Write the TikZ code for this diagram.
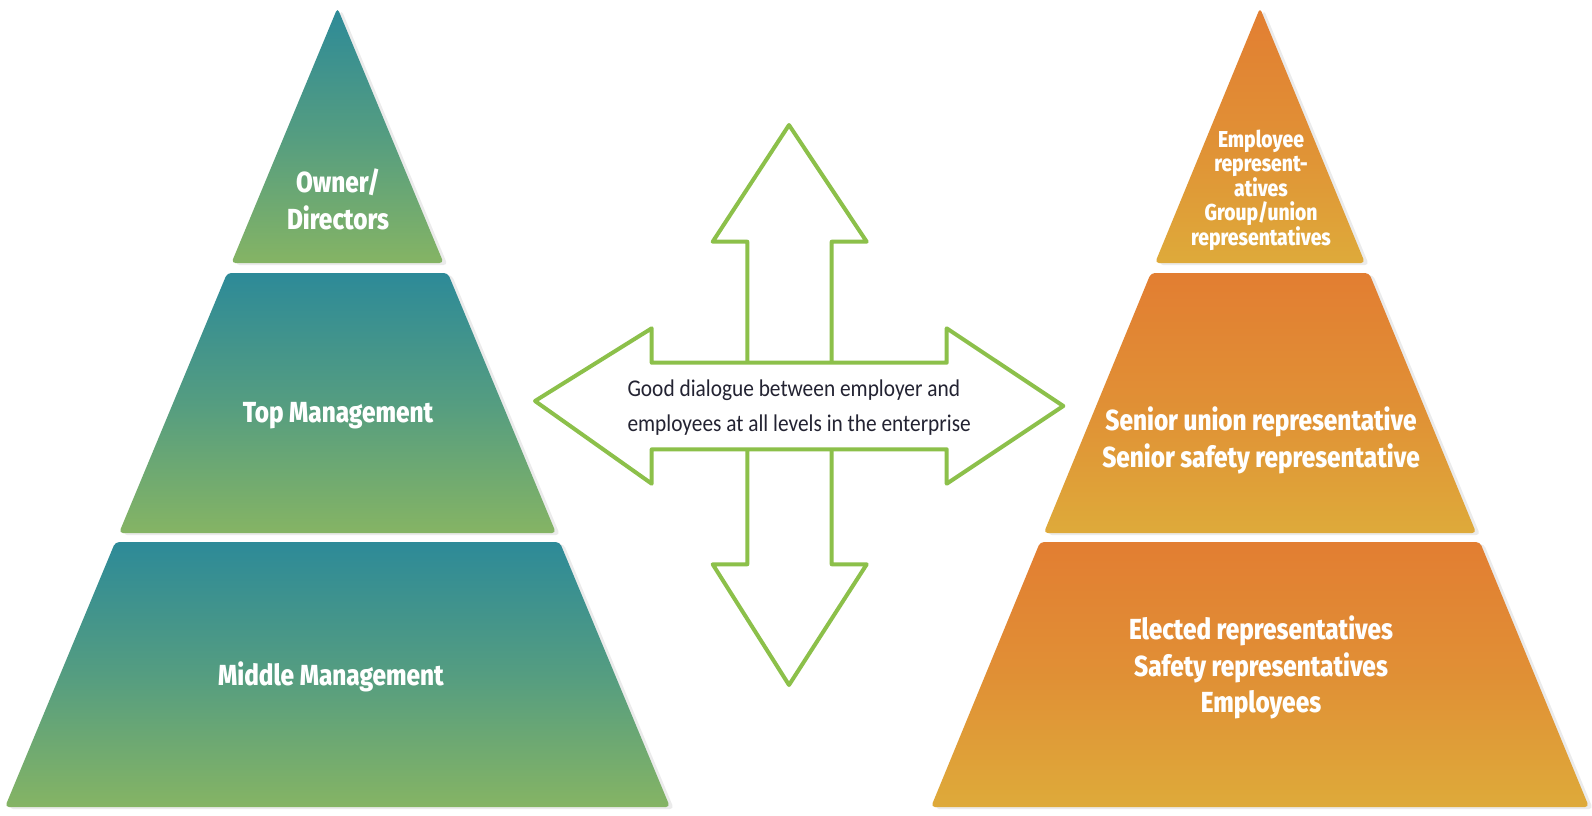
\documentclass[tikz,border=0pt]{standalone}
\usepackage{fontspec}
\newfontfamily\labfont{Fira Sans}[BoldFont={Fira Sans ExtraBold}, FakeStretch=0.84]
\newfontfamily\dlgfont{Carlito}[FakeStretch=0.89]
\definecolor{tealA}{RGB}{45,138,152}
\definecolor{greenA}{RGB}{133,180,100}
\definecolor{orangeA}{RGB}{226,126,50}
\definecolor{goldA}{RGB}{222,170,58}
\definecolor{arrowG}{RGB}{140,192,74}
\definecolor{dlgText}{RGB}{35,35,50}
\tikzset{
  tierL/.style={top color=tealA, bottom color=greenA, middle color=tealA!55!greenA, rounded corners=4pt},
  tierR/.style={top color=orangeA, bottom color=goldA, middle color=orangeA!60!goldA, rounded corners=4pt},
  shadowtier/.style={fill=black, opacity=0.08, rounded corners=4pt},
  lab/.style={text=white, align=center, inner sep=0pt, font=\labfont\bfseries\fontsize{29}{36.5}\selectfont},
  labsmall/.style={text=white, align=center, inner sep=0pt, font=\labfont\bfseries\fontsize{23}{24}\selectfont},
  arrowshape/.style={draw=arrowG, fill=white, line width=4pt, line join=round},
  dlg/.style={text=dlgText, anchor=base west, inner sep=0pt, font=\dlgfont\fontsize{24}{34}\selectfont}
}
\begin{document}
\begin{tikzpicture}[x=1pt,y=-1pt]
\useasboundingbox[fill=white] (0,0) rectangle (1592,815);
% shadows
\fill[shadowtier] (341.5,10) -- (447.6,265) -- (235.4,265) -- cycle;
\fill[shadowtier] (231.2,275) -- (451.8,275) -- (560,535) -- (123,535) -- cycle;
\fill[shadowtier] (119.3,544) -- (563.7,544) -- (674,809) -- (9,809) -- cycle;
\fill[shadowtier] (1264,10) -- (1369,265) -- (1159,265) -- cycle;
\fill[shadowtier] (1154.9,275) -- (1373.1,275) -- (1480.2,535) -- (1047.8,535) -- cycle;
\fill[shadowtier] (1044.1,544) -- (1483.9,544) -- (1593,809) -- (935,809) -- cycle;
% left pyramid
\path[tierL] (337.5,8) -- (443.6,263) -- (231.4,263) -- cycle;
\path[tierL] (227.2,273) -- (447.8,273) -- (556,533) -- (119,533) -- cycle;
\path[tierL] (115.3,542) -- (559.7,542) -- (670,807) -- (5,807) -- cycle;
% right pyramid
\path[tierR] (1260,8) -- (1365,263) -- (1155,263) -- cycle;
\path[tierR] (1150.9,273) -- (1369.1,273) -- (1476.2,533) -- (1043.8,533) -- cycle;
\path[tierR] (1040.1,542) -- (1479.9,542) -- (1589,807) -- (931,807) -- cycle;
% arrows
\draw[arrowshape] (789,125) -- (866.7,241.7) -- (831.7,241.7) -- (831.7,564.3) -- (866.7,564.3) -- (789,685) -- (712.7,564.3) -- (747.3,564.3) -- (747.3,241.7) -- (712.7,241.7) -- cycle;
\draw[arrowshape] (535,401) -- (651.7,328.3) -- (651.7,362.7) -- (946.7,362.7) -- (946.7,328.3) -- (1063.3,406) -- (946.7,483.7) -- (946.7,449.3) -- (651.7,449.3) -- (651.7,483.7) -- cycle;
% labels
\node[lab] (owner) at (338,199.5) {Owner/\\Directors};
\node[lab] (top) at (338,416) {Top Management};
\node[lab] (middle) at (331,677) {Middle Management};
\node[labsmall] (emprep) at (1261,190) {Employee\\represent-\\atives\\Group/union\\representatives};
\node[lab] (senior) at (1261,440.5) {Senior union representative\\Senior safety representative};
\node[lab] (elected) at (1261,667.5) {Elected representatives\\Safety representatives\\Employees};
\node[dlg] (dialogueA) at (627.3,396.7) {Good dialogue between employer and};
\node[dlg] (dialogueB) at (627.3,431) {employees at all levels in the enterprise};
\end{tikzpicture}
\end{document}
